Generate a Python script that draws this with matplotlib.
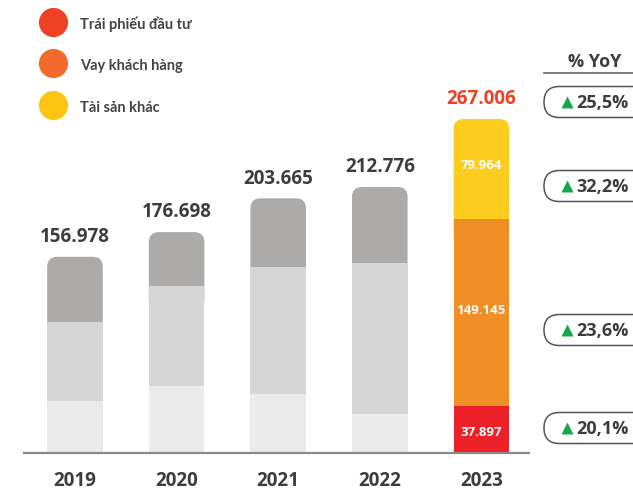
import matplotlib
matplotlib.use("Agg")
import matplotlib.pyplot as plt
from matplotlib.patches import FancyBboxPatch

# data
years = ["2019", "2020", "2021", "2022", "2023"]
totals = ["156.978", "176.698", "203.665", "212.776", "267.006"]
bonds = [42.0, 54.0, 47.4, 31.6, 37.897]      # Trái phiếu đầu tư
loans = [63.1, 79.9, 101.6, 120.6, 149.145]   # Vay khách hàng
others = [51.9, 42.8, 54.7, 60.6, 79.964]     # Tài sản khác
inner_labels = ["37.897", "149.145", "79.964"]
legend_labels = ["Trái phiếu đầu tư", "Vay khách hàng", "Tài sản khác"]
yoy = ["25,5%", "32,2%", "23,6%", "20,1%"]

W, H = 633, 492
DARK = "#3d3d3d"
gray_cols = ["#ebebeb", "#d7d6d6", "#acabaa"]
cur_cols = ["#ec2027", "#f18f27", "#fccc1e"]
leg_cols = ["#ef4224", "#f26a2c", "#fdc411"]

fig = plt.figure(figsize=(W / 100, H / 100), dpi=100)
ax = fig.add_axes([0, 0, 1, 1])
ax.set_xlim(-0.738, 5.492)
ax.set_ylim(-30.9, 362.1)
ax.axis("off")

px_x = W / (5.492 + 0.738)
px_y = H / (362.1 + 30.9)
aspect = px_x / px_y


def fx(px):
    return px / W


def fy(py):
    return 1 - py / H


x = list(range(len(years)))
bw = 0.547
n = len(years)
c_bot = [gray_cols[0]] * (n - 1) + [cur_cols[0]]
c_mid = [gray_cols[1]] * (n - 1) + [cur_cols[1]]
c_top = [gray_cols[2]] * (n - 1) + [cur_cols[2]]

mid_base = bonds
top_base = [b + l for b, l in zip(bonds, loans)]

ax.bar(x, bonds, bw, color=c_bot, zorder=3)
ax.bar(x, loans, bw, bottom=mid_base, color=c_mid, zorder=3)
tops = ax.bar(x, others, bw, bottom=top_base, color=c_top, zorder=2)

# rounded top segments
r = 10 / px_x
for rect in tops:
    x0, y0 = rect.get_x(), rect.get_y()
    w, h = rect.get_width(), rect.get_height()
    ext = 20
    patch = FancyBboxPatch((x0, y0 - ext), w, h + ext,
                           boxstyle=f"round,pad=0,rounding_size={r}",
                           mutation_aspect=aspect, fc=rect.get_facecolor(),
                           ec="none", zorder=2)
    rect.remove()
    ax.add_patch(patch)

ax.hlines(0, -0.51, 4.475, color="#8a8a8a", lw=1.6, zorder=4)

# totals and years
for i in x:
    top = top_base[i] + others[i]
    col = "#ef4123" if i == n - 1 else DARK
    ax.annotate(totals[i], (i, top), xytext=(0, 7), textcoords="offset points",
                ha="center", va="bottom", fontsize=13.5, fontweight="bold",
                family="Open Sans", color=col)
    ax.text(i, -22.5, years[i], ha="center", va="center", fontsize=13.5,
            fontweight="bold", family="Open Sans", color=DARK)

# values inside 2023 bar
last = n - 1
seg_mid = [bonds[last] / 2 - 2,
           bonds[last] + loans[last] / 2 + 2,
           top_base[last] + others[last] / 2 + 3]
for lab, ym in zip(inner_labels, seg_mid):
    ax.text(last, ym, lab, ha="center", va="center", fontsize=9.5,
            fontweight="bold", family="Open Sans", color="white", zorder=5)

# legend
for i, (lab, c) in enumerate(zip(legend_labels, leg_cols)):
    yy = 21.7 + 41.7 * i
    ax.plot(fx(52.7), fy(yy), "o", ms=21, color=c, mec="none",
            transform=ax.transAxes, clip_on=False)
    ax.text(fx(80), fy(yy + 3), lab, transform=ax.transAxes, ha="left",
            va="center", fontsize=10.5, fontweight="bold", family="Lato",
            color="#444444")

# YoY column
ax.text(fx(595), fy(61.7), "% YoY", transform=ax.transAxes, ha="center",
        va="center", fontsize=13, fontweight="bold", family="Open Sans",
        color=DARK)
ax.plot([fx(544), 1.0], [fy(73.3), fy(73.3)], color="#666666", lw=1.2,
        transform=ax.transAxes)

pill_y = [102, 186, 330, 428]
ph = 31
for yc, lab in zip(pill_y, yoy):
    p = FancyBboxPatch((fx(544), fy(yc + ph / 2)), fx(130), ph / H,
                       boxstyle=f"round,pad=0,rounding_size={fx(15.5)}",
                       mutation_aspect=W / H, fc="white", ec="#555555",
                       lw=1.1, transform=ax.transAxes, clip_on=False)
    ax.add_patch(p)
    ax.plot(fx(567), fy(yc), "^", ms=9, color="#14a84a", mec="none",
            transform=ax.transAxes)
    ax.text(fx(576), fy(yc + 0.5), lab, transform=ax.transAxes, ha="left",
            va="center", fontsize=13, fontweight="bold", family="Open Sans",
            color=DARK)

fig.savefig("out.png", dpi=100)
